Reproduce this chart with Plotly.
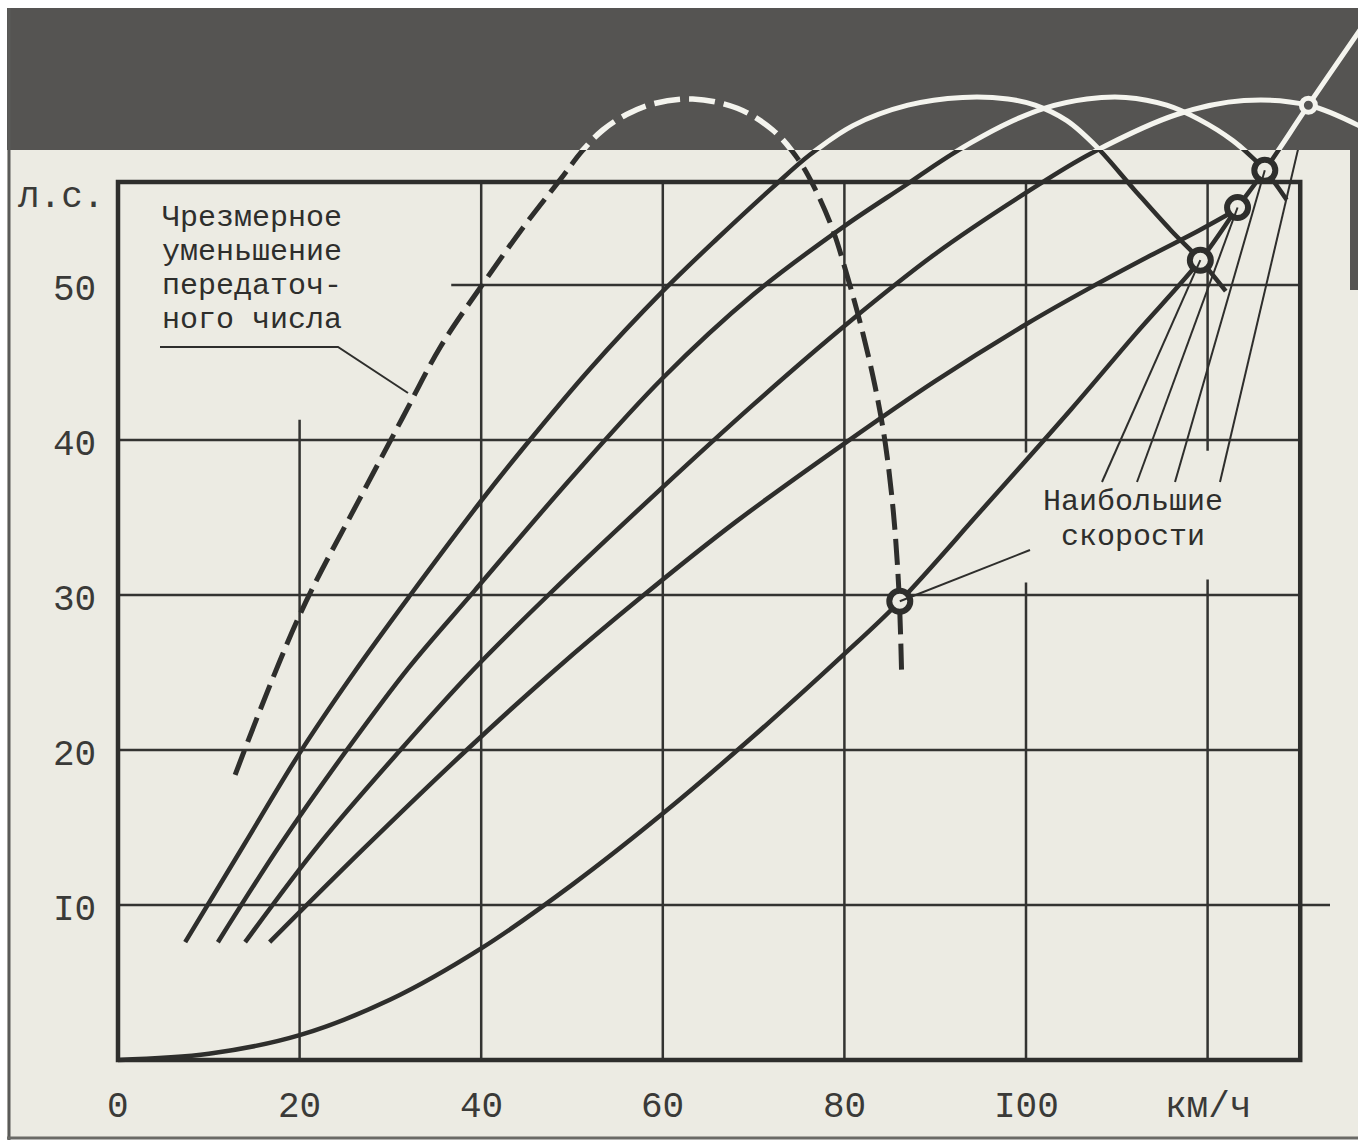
import plotly.graph_objects as go

# ---------------- data (km/h, л.с.) ----------------
# power required to drive the car (resistance curve)
res_x = [0, 10, 20, 30, 40, 50, 60, 70, 80, 86.1, 95, 105, 112, 119.2, 123.3, 126.3, 131.1, 136.6, 138.0]
res_y = [0, 0.4, 1.6, 3.9, 7.2, 11.3, 15.9, 20.9, 26.2, 29.6, 35.4, 42.0, 46.8, 51.6, 55.0, 57.4, 61.6, 66.3, 67.5]

# engine power at the wheels, excessive reduction of the gear ratio (dashed)
dash_x = [12.9, 20, 26.7, 31.4, 35.5, 40.1, 44.6, 48.7, 51.2, 53.4, 56, 59, 63.3, 68.2, 72.1, 74.8, 76.6, 78.7, 80.4, 81.9, 83.4, 84.5, 85.4, 86.0, 86.3]
dash_y = [18.4, 28.7, 36.3, 41.5, 46.0, 50.0, 53.7, 56.8, 58.7, 60.0, 61.0, 61.7, 62.0, 61.4, 60.0, 58.2, 56.4, 53.6, 50.4, 47.2, 43.4, 39.8, 35.3, 30.3, 25.0]

# engine power curves for four gear ratios (solid)
c1_x = [7.4, 14, 20, 26, 32.2, 39.9, 44.8, 52, 60, 66, 72.1, 76.2, 81, 87, 93, 98, 101, 104.5, 107.8, 112, 116, 119.2, 122]
c1_y = [7.6, 14.0, 19.8, 25.0, 30, 36.0, 39.6, 44.6, 49.6, 53.0, 56.3, 58.4, 60.3, 61.6, 62.1, 62.0, 61.6, 60.6, 58.9, 56.1, 53.5, 51.6, 49.6]

c2_x = [11.0, 18, 25.2, 32, 39.3, 50, 60, 70, 80, 86.9, 90.4, 94, 98.2, 102, 106.7, 111, 115.5, 119, 122.8, 126.3, 128.7]
c2_y = [7.6, 14.0, 20, 25.3, 30.3, 37.6, 44.0, 49.4, 53.8, 56.5, 57.9, 59.2, 60.5, 61.4, 62.0, 62.1, 61.6, 60.7, 59.3, 57.4, 55.5]

c3_x = [14.0, 22, 31.1, 39, 47.4, 59.7, 70, 80.3, 90, 100.4, 107.2, 116.6, 124.0, 131.1, 136.6, 138.0]
c3_y = [7.6, 13.8, 20, 25.1, 30, 36.8, 42.3, 47.5, 52.0, 56.1, 58.5, 61.0, 61.9, 61.6, 60.3, 59.8]

c4_x = [16.7, 27, 38.4, 48, 57.5, 68, 80.3, 90, 100.1, 107, 113.7, 119, 123.3]
c4_y = [7.6, 13.6, 20, 25.1, 29.8, 34.7, 39.9, 43.8, 47.5, 49.8, 51.9, 53.5, 54.9]

# highest speeds: intersections of the power curves with the resistance curve
vmax_x = [86.1, 119.2, 123.3, 126.3, 131.1]
vmax_y = [29.6, 51.6, 55.0, 57.4, 61.6]

x_ticks = [0, 20, 40, 60, 80, 100]
x_tick_text = ["0", "20", "40", "60", "80", "I00"]
y_ticks = [10, 20, 30, 40, 50]
y_tick_text = ["I0", "20", "30", "40", "50"]

x_max_frame = 130.2
y_max_frame = 56.65

# ---------------- geometry of the page ----------------
W, H = 1358, 1140
X0_PX, PX_PER_KMH = 118, 9.08
Y0_PX, PX_PER_HP = 1060, 15.5
BAND_PX = 150  # bottom of the dark strip at the top of the photo


def xd(px):
    return (px - X0_PX) / PX_PER_KMH


def yd(py):
    return (Y0_PX - py) / PX_PER_HP


def xp(px):
    return px / W


def yp(py):
    return 1 - py / H


INK = "#2e2e2c"
PAPER = "#ecebe3"
DARK = "#555452"
WHITE = "#f4f4ee"
FONT = "Liberation Mono"

fig = go.Figure()

curves = [
    (c1_x, c1_y, None, 4.5),
    (c2_x, c2_y, None, 4.5),
    (c3_x, c3_y, None, 4.5),
    (c4_x, c4_y, None, 4.5),
    (dash_x, dash_y, "26px,9px", 5),
    (res_x, res_y, None, 4.5),
]

# dark ink on the light paper (axes x / y), white lines in the dark strip (x2 / y2)
for xa, ya, colr, extra in [("x", "y", INK, 0), ("x2", "y2", WHITE, 0.5)]:
    for cx, cy, dsh, wdt in curves:
        fig.add_trace(go.Scatter(
            x=cx, y=cy, mode="lines", xaxis=xa, yaxis=ya,
            line=dict(color=colr, width=wdt + extra, dash=dsh, shape="spline", smoothing=1.0),
            hoverinfo="skip", showlegend=False))

# circles at the highest speeds
fig.add_trace(go.Scatter(
    x=vmax_x[:4], y=vmax_y[:4], mode="markers", xaxis="x", yaxis="y",
    marker=dict(size=21, color=PAPER, line=dict(color=INK, width=6)),
    hoverinfo="skip", showlegend=False))
fig.add_trace(go.Scatter(
    x=vmax_x[4:], y=vmax_y[4:], mode="markers", xaxis="x2", yaxis="y2",
    marker=dict(size=14, color=DARK, line=dict(color=WHITE, width=5)),
    hoverinfo="skip", showlegend=False))

shapes = []
# photo background
shapes.append(dict(type="rect", xref="paper", yref="paper", x0=xp(7), x1=1, y0=yp(1138), y1=yp(BAND_PX),
                   fillcolor=PAPER, line=dict(width=0), layer="below"))
shapes.append(dict(type="rect", xref="paper", yref="paper", x0=xp(7), x1=1, y0=yp(BAND_PX), y1=yp(8),
                   fillcolor=DARK, line=dict(width=0), layer="below"))
shapes.append(dict(type="rect", xref="paper", yref="paper", x0=xp(1350), x1=1, y0=yp(290), y1=yp(BAND_PX),
                   fillcolor=DARK, line=dict(width=0), layer="below"))
shapes.append(dict(type="line", xref="paper", yref="paper", x0=xp(9), x1=xp(9), y0=0, y1=yp(8),
                   line=dict(color="#5a5a58", width=3), layer="below"))
shapes.append(dict(type="line", xref="paper", yref="paper", x0=xp(7), x1=1, y0=yp(1138), y1=yp(1138),
                   line=dict(color="#6a6a66", width=3), layer="below"))

GRID = dict(color="#333331", width=2.5)
# vertical grid lines (with the gaps of the original drawing)
v_segments = [(20, 0, 41.3), (40, 0, y_max_frame), (60, 0, y_max_frame), (80, 0, y_max_frame),
              (100, 0, 30.8), (100, 39.2, y_max_frame), (120, 0, 31.0), (120, 39.3, y_max_frame)]
for gx, ya0, ya1 in v_segments:
    shapes.append(dict(type="line", xref="x", yref="y", x0=gx, x1=gx, y0=ya0, y1=ya1, line=GRID, layer="below"))
h_segments = [(10, 0, xd(1330)), (20, 0, x_max_frame), (30, 0, x_max_frame), (40, 0, x_max_frame),
              (50, 36.7, x_max_frame)]
for gy, xa0, xa1 in h_segments:
    shapes.append(dict(type="line", xref="x", yref="y", x0=xa0, x1=xa1, y0=gy, y1=gy, line=GRID, layer="below"))
# frame
shapes.append(dict(type="rect", xref="x", yref="y", x0=0, x1=x_max_frame, y0=0, y1=y_max_frame,
                   line=dict(color=INK, width=4.5), fillcolor="rgba(0,0,0,0)", layer="below"))

LEAD = dict(color=INK, width=2)
# leader of the dashed-curve label
shapes.append(dict(type="path", xref="x", yref="y",
                   path=f"M {xd(160)},{yd(347)} L {xd(338)},{yd(347)} L {xd(408)},{yd(393)}",
                   line=LEAD))
# leaders of "Наибольшие скорости"
shapes.append(dict(type="line", xref="x", yref="y", x0=xd(1030), y0=yd(550), x1=vmax_x[0], y1=vmax_y[0], line=LEAD))
for sx, i in zip([1102, 1137, 1175, 1220], [1, 2, 3, 4]):
    shapes.append(dict(type="line", xref="x", yref="y", x0=xd(sx), y0=yd(482), x1=vmax_x[i], y1=vmax_y[i], line=LEAD))

annotations = []
TXT = dict(family=FONT, size=30, color=INK)
TICK = dict(family=FONT, size=36, color="#3a3a38")

for v, t in zip(x_ticks, x_tick_text):
    annotations.append(dict(x=v, y=yd(1107), xref="x", yref="y", text=t, showarrow=False,
                            xanchor="center", yanchor="middle", font=TICK))
annotations.append(dict(x=120, y=yd(1107), xref="x", yref="y", text="км/ч", showarrow=False,
                        xanchor="center", yanchor="middle", font=TICK))
for v, t in zip(y_ticks, y_tick_text):
    annotations.append(dict(x=xd(98), y=v - 0.35, xref="x", yref="y", text=t, showarrow=False,
                            xanchor="right", yanchor="middle", font=TICK))
annotations.append(dict(x=xd(16), y=yd(198), xref="x", yref="y", text="л.с.", showarrow=False,
                        xanchor="left", yanchor="middle", font=TICK))

for line_text, py in zip(["Чрезмерное", "уменьшение", "передаточ-", "ного числа"], [218, 252, 286, 320]):
    annotations.append(dict(x=xd(160), y=yd(py), xref="x", yref="y", text=line_text, showarrow=False,
                            xanchor="left", yanchor="middle", font=TXT))
for line_text, py in zip(["Наибольшие", "скорости"], [502, 537]):
    annotations.append(dict(x=xd(1133), y=yd(py), xref="x", yref="y", text=line_text, showarrow=False,
                            xanchor="center", yanchor="middle", font=TXT))

band_frac = 1 - BAND_PX / H
ax_common = dict(visible=False, showgrid=False, zeroline=False, fixedrange=True)
fig.update_layout(
    width=W, height=H, autosize=False,
    margin=dict(l=0, r=0, t=0, b=0, pad=0),
    paper_bgcolor="white", plot_bgcolor="rgba(0,0,0,0)",
    xaxis=dict(range=[xd(0), xd(W)], domain=[0, 1], anchor="y", **ax_common),
    yaxis=dict(range=[yd(H), yd(BAND_PX)], domain=[0, band_frac], anchor="x", **ax_common),
    xaxis2=dict(range=[xd(0), xd(W)], domain=[0, 1], anchor="y2", **ax_common),
    yaxis2=dict(range=[yd(BAND_PX), yd(0)], domain=[band_frac, 1], anchor="x2", **ax_common),
    shapes=shapes, annotations=annotations, showlegend=False,
)

fig.write_html(
    "out.html",
    config={"displayModeBar": False, "staticPlot": True},
    post_script="document.body.style.margin='0';document.body.style.padding='0';document.body.style.overflow='hidden';",
)
